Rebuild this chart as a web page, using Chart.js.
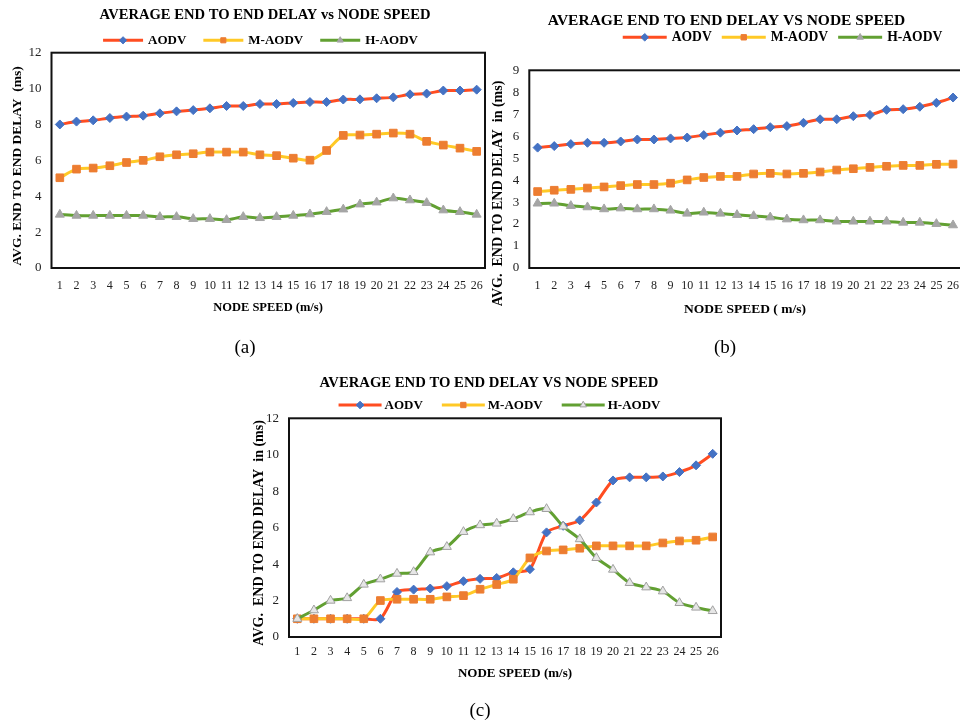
<!DOCTYPE html>
<html><head><meta charset="utf-8">
<script src="https://cdn.jsdelivr.net/npm/chart.js@4.4.1/dist/chart.umd.min.js"></script>
<style>
html,body{margin:0;padding:0;background:#fff;width:960px;height:724px;overflow:hidden;position:relative;}
canvas{position:absolute;left:0;top:0;}
.cap{position:absolute;font-family:"Liberation Serif","Times New Roman",serif;font-size:19px;color:#000;transform:translate(-50%,-50%);white-space:nowrap;}
</style></head><body>
<canvas id="ca" width="970" height="724"></canvas>
<canvas id="cb" width="970" height="724"></canvas>
<canvas id="cc" width="970" height="724"></canvas>
<div class="cap" style="left:245px;top:347px">(a)</div>
<div class="cap" style="left:725px;top:347px">(b)</div>
<div class="cap" style="left:480px;top:710px">(c)</div>
<script>
// ---------- data ----------
const speeds = ['1','2','3','4','5','6','7','8','9','10','11','12','13','14','15','16','17','18','19','20','21','22','23','24','25','26'];
const seriesNames = ['AODV','M-AODV','H-AODV'];

const aodvA  = [8.0,8.16,8.23,8.36,8.44,8.49,8.62,8.73,8.8,8.9,9.03,9.03,9.14,9.14,9.2,9.25,9.25,9.39,9.4,9.46,9.51,9.68,9.72,9.89,9.89,9.94];
const maodvA = [5.03,5.51,5.57,5.7,5.88,6.0,6.2,6.31,6.37,6.46,6.46,6.46,6.31,6.26,6.12,6.01,6.55,7.39,7.41,7.46,7.52,7.46,7.06,6.85,6.68,6.5];
const haodvA = [2.98,2.92,2.92,2.92,2.92,2.92,2.85,2.85,2.74,2.74,2.68,2.85,2.79,2.85,2.92,3.0,3.13,3.27,3.55,3.66,3.89,3.78,3.63,3.22,3.13,2.98];

const aodvB  = [5.48,5.55,5.64,5.7,5.7,5.76,5.85,5.85,5.9,5.94,6.05,6.16,6.26,6.32,6.41,6.46,6.61,6.77,6.77,6.91,6.97,7.2,7.23,7.34,7.52,7.76];
const maodvB = [3.48,3.54,3.58,3.64,3.69,3.75,3.8,3.8,3.86,4.01,4.12,4.17,4.17,4.28,4.31,4.28,4.31,4.37,4.46,4.52,4.58,4.63,4.67,4.67,4.72,4.73];
const haodvB = [2.94,2.94,2.83,2.77,2.68,2.72,2.68,2.68,2.62,2.48,2.53,2.48,2.42,2.37,2.31,2.22,2.18,2.18,2.12,2.12,2.12,2.12,2.07,2.07,2.01,1.95];

const aodvC  = [1.0,1.0,1.0,1.0,1.0,1.0,2.47,2.6,2.66,2.79,3.06,3.19,3.24,3.55,3.72,5.74,6.1,6.4,7.38,8.59,8.76,8.76,8.81,9.05,9.42,10.05];
const maodvC = [1.0,1.0,1.0,1.0,1.0,2.0,2.07,2.07,2.07,2.2,2.27,2.62,2.88,3.17,4.34,4.72,4.78,4.87,5.0,5.0,5.0,5.0,5.16,5.27,5.31,5.49];
const haodvC = [1.0,1.47,2.0,2.14,2.88,3.17,3.48,3.57,4.65,4.95,5.77,6.14,6.23,6.48,6.85,7.03,6.07,5.37,4.34,3.7,2.97,2.73,2.51,1.87,1.62,1.43];

const yTicksAC = [0,2,4,6,8,10,12];
const yTicksB  = [0,1,2,3,4,5,6,7,8,9];

// ---------- styling / drawing ----------
const SERIF = '"Liberation Serif","Times New Roman",serif';

function marker(ctx, style, x, y, r, fill, stroke) {
  ctx.save();
  ctx.fillStyle = fill; ctx.strokeStyle = stroke; ctx.lineWidth = 1;
  ctx.beginPath();
  if (style === 'rectRot') {
    ctx.moveTo(x, y - r); ctx.lineTo(x + r, y); ctx.lineTo(x, y + r); ctx.lineTo(x - r, y); ctx.closePath();
  } else if (style === 'rect') {
    const s = r * Math.SQRT1_2; ctx.rect(x - s, y - s, 2 * s, 2 * s);
  } else {
    let a = 0;
    ctx.moveTo(x + Math.sin(a) * r, y - Math.cos(a) * r);
    a += 2 * Math.PI / 3; ctx.lineTo(x + Math.sin(a) * r, y - Math.cos(a) * r);
    a += 2 * Math.PI / 3; ctx.lineTo(x + Math.sin(a) * r, y - Math.cos(a) * r);
    ctx.closePath();
  }
  ctx.fill(); ctx.stroke();
  ctx.restore();
}

const decor = {
  id: 'decor',
  beforeDatasetsDraw(chart, args, o) {
    const ctx = chart.ctx, a = chart.chartArea;
    ctx.save();
    ctx.strokeStyle = '#111'; ctx.lineWidth = 2;
    ctx.strokeRect(a.left, a.top, a.right - a.left, a.bottom - a.top);
    ctx.restore();
  },
  afterDraw(chart, args, o) {
    const ctx = chart.ctx;
    ctx.save();
    ctx.fillStyle = '#000'; ctx.textAlign = 'center'; ctx.textBaseline = 'middle';
    ctx.font = `bold ${o.title.size}px ${SERIF}`;
    ctx.fillText(o.title.text, o.title.x, o.title.y);
    ctx.font = `bold ${o.xTitle.size}px ${SERIF}`;
    ctx.fillText(o.xTitle.text, o.xTitle.x, o.xTitle.y);
    ctx.save();
    ctx.translate(o.yTitle.x, o.yTitle.y); ctx.rotate(-Math.PI / 2);
    ctx.font = `bold ${o.yTitle.size}px ${SERIF}`;
    ctx.fillText(o.yTitle.text, 0, 0);
    ctx.restore();
    // legend
    const L = o.legend;
    ctx.font = `bold ${L.size}px ${SERIF}`;
    const items = chart.data.datasets.map(ds => ({ ds, w: ctx.measureText(ds.label).width }));
    const total = items.reduce((s, it) => s + L.lineW + L.gap1 + it.w, 0) + L.gap2 * (items.length - 1);
    let x = L.cx - total / 2;
    items.forEach(it => {
      const ds = it.ds;
      ctx.strokeStyle = ds.borderColor; ctx.lineWidth = ds.borderWidth;
      ctx.beginPath(); ctx.moveTo(x, L.y); ctx.lineTo(x + L.lineW, L.y); ctx.stroke();
      marker(ctx, ds.pointStyle, x + L.lineW / 2, L.y, L.r, ds.pointBackgroundColor, ds.pointBorderColor);
      ctx.fillStyle = '#000'; ctx.textAlign = 'left';
      ctx.fillText(ds.label, x + L.lineW + L.gap1, L.y + 0.5);
      x += L.lineW + L.gap1 + it.w + L.gap2;
    });
    ctx.restore();
  }
};

function datasets(vals, triFill, triBorder, tension) {
  return [
    { label: seriesNames[0], data: vals[0], order: 3, borderColor: '#FF4D21', borderWidth: 3,
      pointStyle: 'rectRot', pointRadius: 4.5, pointBackgroundColor: '#4472C4', pointBorderColor: '#4472C4', pointBorderWidth: 1, tension },
    { label: seriesNames[1], data: vals[1], order: 2, borderColor: '#FFC926', borderWidth: 3,
      pointStyle: 'rect', pointRadius: 5.4, pointBackgroundColor: '#ED7D31', pointBorderColor: '#ED7D31', pointBorderWidth: 1, tension },
    { label: seriesNames[2], data: vals[2], order: 1, borderColor: '#62A032', borderWidth: 3,
      pointStyle: 'triangle', pointRadius: 5.2, pointBackgroundColor: triFill, pointBorderColor: triBorder, pointBorderWidth: 1, tension }
  ];
}

function makeChart(id, g) {
  const W = 970, H = 724;
  new Chart(document.getElementById(id), {
    type: 'line',
    data: { labels: speeds, datasets: datasets(g.vals, g.triFill, g.triBorder, g.tension) },
    plugins: [decor],
    options: {
      responsive: false, animation: false, devicePixelRatio: 1,
      layout: { padding: { left: g.L - g.yW, right: W - g.R, top: g.T, bottom: H - g.B - g.xH } },
      plugins: {
        legend: { display: false }, title: { display: false }, tooltip: { enabled: false },
        decor: { title: g.title, xTitle: g.xTitle, yTitle: g.yTitle, legend: g.legend }
      },
      scales: {
        x: { type: 'category', offset: true,
             grid: { display: false, drawTicks: false }, border: { display: false },
             ticks: { color: '#222', font: { family: SERIF, size: 12 }, padding: g.xPad, maxRotation: 0, autoSkip: false },
             afterFit: s => { s.height = g.xH; } },
        y: { min: 0, max: g.yTicks[g.yTicks.length - 1],
             afterBuildTicks: s => { s.ticks = g.yTicks.map(v => ({ value: v })); },
             grid: { display: false, drawTicks: false }, border: { display: false },
             ticks: { color: '#222', font: { family: SERIF, size: 13 }, padding: 10 },
             afterFit: s => { s.width = g.yW; } }
      }
    }
  });
}

makeChart('ca', {
  vals: [aodvA, maodvA, haodvA], triFill: '#A5A5A5', triBorder: '#A5A5A5', tension: 0.25,
  L: 51.5, R: 485, T: 52.7, B: 268, yW: 30, xH: 30, xPad: 10.5, yTicks: yTicksAC,
  title: { text: 'AVERAGE END TO END DELAY vs NODE SPEED', x: 265, y: 15, size: 14.6 },
  legend: { cx: 260.5, y: 40.3, size: 13, lineW: 40, gap1: 5, gap2: 17, r: 3.6 },
  xTitle: { text: 'NODE SPEED (m/s)', x: 268, y: 308, size: 12.5 },
  yTitle: { text: 'AVG. END TO END DELAY  (ms)', x: 17.9, y: 166, size: 13.5 }
});
makeChart('cb', {
  vals: [aodvB, maodvB, haodvB], triFill: '#A5A5A5', triBorder: '#A5A5A5', tension: 0.15,
  L: 529.3, R: 961.6, T: 70.3, B: 268, yW: 30, xH: 30, xPad: 10.8, yTicks: yTicksB,
  title: { text: 'AVERAGE END TO END DELAY VS NODE SPEED', x: 726.5, y: 20.5, size: 15.5 },
  legend: { cx: 782.5, y: 37.3, size: 13.6, lineW: 44, gap1: 5, gap2: 10, r: 3.8 },
  xTitle: { text: 'NODE SPEED ( m/s)', x: 745, y: 310, size: 13.5 },
  yTitle: { text: 'AVG.  END TO END DELAY  in (ms)', x: 498.7, y: 193.5, size: 14 }
});
makeChart('cc', {
  vals: [aodvC, maodvC, haodvC], triFill: '#E6E6E6', triBorder: '#A0A0A0', tension: 0.25,
  L: 289, R: 721, T: 418.3, B: 637, yW: 30, xH: 30, xPad: 8, yTicks: yTicksAC,
  title: { text: 'AVERAGE END TO END DELAY VS NODE SPEED', x: 489, y: 383.3, size: 14.7 },
  legend: { cx: 499.5, y: 405, size: 13, lineW: 43, gap1: 3, gap2: 19, r: 3.8 },
  xTitle: { text: 'NODE SPEED (m/s)', x: 515, y: 673.3, size: 13 },
  yTitle: { text: 'AVG.  END TO END DELAY  in (ms)', x: 259, y: 533, size: 14 }
});
</script>
</body></html>
